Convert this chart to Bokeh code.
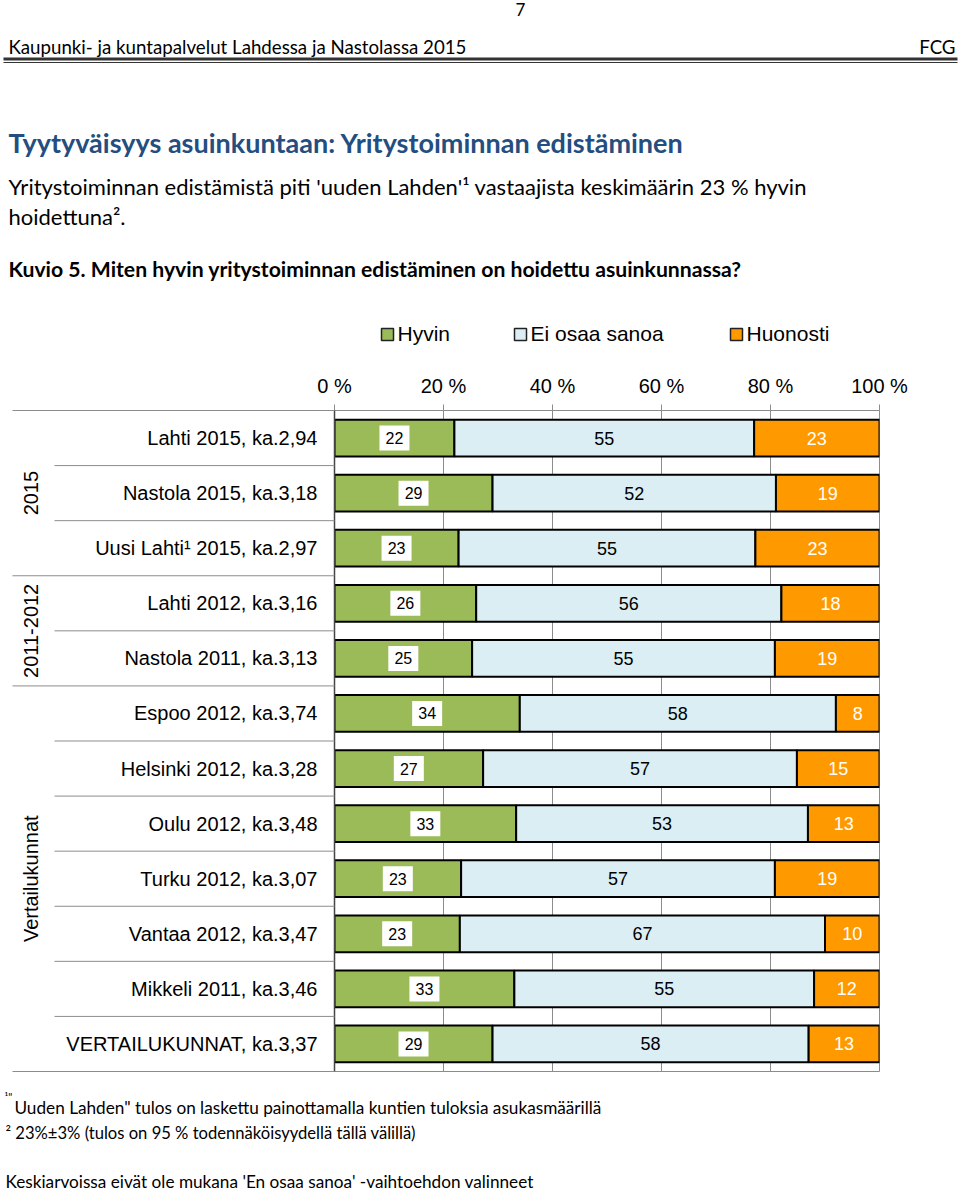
import numpy as np
from bokeh.plotting import figure
from bokeh.models import ColumnDataSource, FactorRange, Range1d, FixedTicker
from bokeh.core.properties import value
from bokeh.embed import file_html
from bokeh.resources import INLINE

# ---------------- data ----------------
categories = ["Lahti 2015, ka.2,94", "Nastola 2015, ka.3,18", "Uusi Lahti\u00b9 2015, ka.2,97",
              "Lahti 2012, ka.3,16", "Nastola 2011, ka.3,13", "Espoo 2012, ka.3,74",
              "Helsinki 2012, ka.3,28", "Oulu 2012, ka.3,48", "Turku 2012, ka.3,07",
              "Vantaa 2012, ka.3,47", "Mikkeli 2011, ka.3,46", "VERTAILUKUNNAT, ka.3,37"]
hyvin = [22, 29, 23, 26, 25, 34, 27, 33, 23, 23, 33, 29]
ei_osaa = [55, 52, 55, 56, 55, 58, 57, 53, 57, 67, 55, 58]
huonosti = [23, 19, 23, 18, 19, 8, 15, 13, 19, 10, 12, 13]
series_names = ["Hyvin", "Ei osaa sanoa", "Huonosti"]
series_colors = ["#9BBB59", "#DBEEF4", "#FF9900"]
x_ticks = [0, 20, 40, 60, 80, 100]
tick_labels = ["0 %", "20 %", "40 %", "60 %", "80 %", "100 %"]
groups = [("2015", 0, 3), ("2011-2012", 3, 5), ("Vertailukunnat", 5, 12)]

# ---------------- layout ----------------
W, H = 960, 1191
FL, FR, FT, FB = 334, 879, 410, 1071
N = len(categories)
ROW = (FB - FT) / N
SANS = "Liberation Sans"
CAL = "Lato"


def X(px):
    return (px - FL) / (FR - FL) * 100.0


def Y(py):
    return (FB - py) / ROW


p = figure(width=W, height=H, title=None,
           y_range=FactorRange(factors=categories[::-1]), x_range=Range1d(0, 100),
           x_axis_location="above", output_backend="svg", toolbar_location=None,
           min_border_left=FL, min_border_right=W - FR, min_border_top=FT,
           min_border_bottom=H - FB)
p.background_fill_color = "white"
p.border_fill_color = "white"
p.outline_line_color = "#8c8c8c"

xa = p.xaxis[0]
xa.ticker = FixedTicker(ticks=x_ticks)
xa.major_label_overrides = {t: l for t, l in zip(x_ticks, tick_labels)}
xa.axis_line_color = "#8c8c8c"
xa.major_tick_line_color = "#8c8c8c"
xa.major_tick_out = 6
xa.major_tick_in = 0
xa.minor_tick_line_color = None
xa.major_label_standoff = 8
xa.major_label_text_font = SANS
xa.major_label_text_font_size = "20px"
xa.major_label_text_color = "black"

ya = p.yaxis[0]
ya.axis_line_color = "#444444"
ya.axis_line_width = 1.5
ya.major_tick_line_color = None
ya.major_tick_out = 0
ya.minor_tick_line_color = None
ya.major_label_standoff = 17
ya.major_label_text_font = SANS
ya.major_label_text_font_size = "20px"
ya.major_label_text_color = "black"

p.xgrid.grid_line_color = "#8c8c8c"
p.ygrid.grid_line_color = None

# normalised (100 % stacked) shares
vals = np.array([hyvin, ei_osaa, huonosti], dtype=float)
shares = vals / vals.sum(axis=0) * 100.0
src = ColumnDataSource(dict(cat=categories, h=shares[0], e=shares[1], o=shares[2]))
rs = p.hbar_stack(["h", "e", "o"], y="cat", height=0.667, fill_color=series_colors,
                  line_color="black", line_width=2, source=src)

cum = np.cumsum(shares, axis=0)
starts = cum - shares
centers = (starts + cum) / 2

lab = ColumnDataSource(dict(cat=categories, hx=centers[0], ex=centers[1], ox=centers[2],
                            ht=[str(v) for v in hyvin], et=[str(v) for v in ei_osaa],
                            ot=[str(v) for v in huonosti]))
p.rect(x="hx", y="cat", width=30, height=25, width_units="screen", height_units="screen",
       fill_color="white", line_color=None, source=lab)
p.text(x="hx", y="cat", text="ht", text_align="center", text_baseline="middle",
       text_font=value(SANS), text_font_size="16px", text_color="black", source=lab)
p.text(x="ex", y="cat", text="et", text_align="center", text_baseline="middle",
       text_font=value(SANS), text_font_size="18px", text_color="black", source=lab)
p.text(x="ox", y="cat", text="ot", text_align="center", text_baseline="middle",
       text_font=value(SANS), text_font_size="18px", text_color="white", source=lab)

# legend (drawn above the axis)
leg_x = [387, 520, 736]
leg_y = 334
p.rect(x=[X(v) for v in leg_x], y=[Y(leg_y)] * 3, width=12, height=12,
       width_units="screen", height_units="screen", fill_color=series_colors,
       line_color="#222222", line_width=1.5, level="overlay")
p.text(x=[X(v + 10) for v in leg_x], y=[Y(leg_y - 1)] * 3, text=series_names,
       text_align="left", text_baseline="middle", text_font=value(SANS),
       text_font_size="21px", text_color="black", level="overlay")

# row separators left of the frame
bounds = list(range(N + 1))
group_edges = {N - a for _, a, _ in groups} | {0}
sx0 = [X(12) if b in group_edges else X(54) for b in bounds]
p.segment(x0=sx0, y0=bounds, x1=[0] * len(bounds), y1=bounds, line_color="#8c8c8c",
          line_width=1, level="overlay")

# group labels (rotated)
p.text(x=[X(30)] * len(groups), y=[N - (a + b) / 2 for _, a, b in groups],
       text=[g[0] for g in groups], angle=np.pi / 2, text_align="center",
       text_baseline="middle", text_font=value(SANS), text_font_size="20px",
       text_color="black", level="overlay")


def page_text(px, py, txt, size, align="left", bold=False, color="black", font=CAL):
    p.text(x=[X(px)], y=[Y(py)], text=[txt], text_align=align, text_baseline="middle",
           text_font=value(font), text_font_size=size,
           text_font_style="bold" if bold else "normal", text_color=color, level="overlay")


# page header
page_text(520, 9, "7", "17px", align="center")
page_text(8, 47, "Kaupunki- ja kuntapalvelut Lahdessa ja Nastolassa 2015", "18.7px")
page_text(955, 47, "FCG", "18.7px", align="right")
p.segment(x0=[X(3)], y0=[Y(58.5)], x1=[X(957)], y1=[Y(58.5)], line_color="#333333",
          line_width=3, level="overlay")
p.segment(x0=[X(3)], y0=[Y(62)], x1=[X(957)], y1=[Y(62)], line_color="#333333",
          line_width=1, level="overlay")

page_text(8, 142, "Tyytyv\u00e4isyys asuinkuntaan: Yritystoiminnan edist\u00e4minen", "27px",
          bold=True, color="#244E80")
page_text(8, 186, "Yritystoiminnan edist\u00e4mist\u00e4 piti 'uuden Lahden'\u00b9 vastaajista "
                  "keskim\u00e4\u00e4rin 23 % hyvin", "22px")
page_text(8, 216, "hoidettuna\u00b2.", "22px")
page_text(8, 268, "Kuvio 5. Miten hyvin yritystoiminnan edist\u00e4minen on hoidettu asuinkunnassa?",
          "21.2px", bold=True)

# footnotes
page_text(4, 1096, "\u00b9\"", "11px")
page_text(14, 1107, "Uuden Lahden\" tulos on laskettu painottamalla kuntien tuloksia "
                    "asukasm\u00e4\u00e4rill\u00e4", "17.2px")
page_text(5, 1132, "\u00b2 23%\u00b13% (tulos on 95 % todenn\u00e4k\u00f6isyydell\u00e4 "
                   "t\u00e4ll\u00e4 v\u00e4lill\u00e4)", "16.6px")
page_text(5, 1181, "Keskiarvoissa eiv\u00e4t ole  mukana 'En osaa sanoa' -vaihtoehdon valinneet",
          "17.2px")

open("out.html", "w").write(file_html(p, INLINE))
